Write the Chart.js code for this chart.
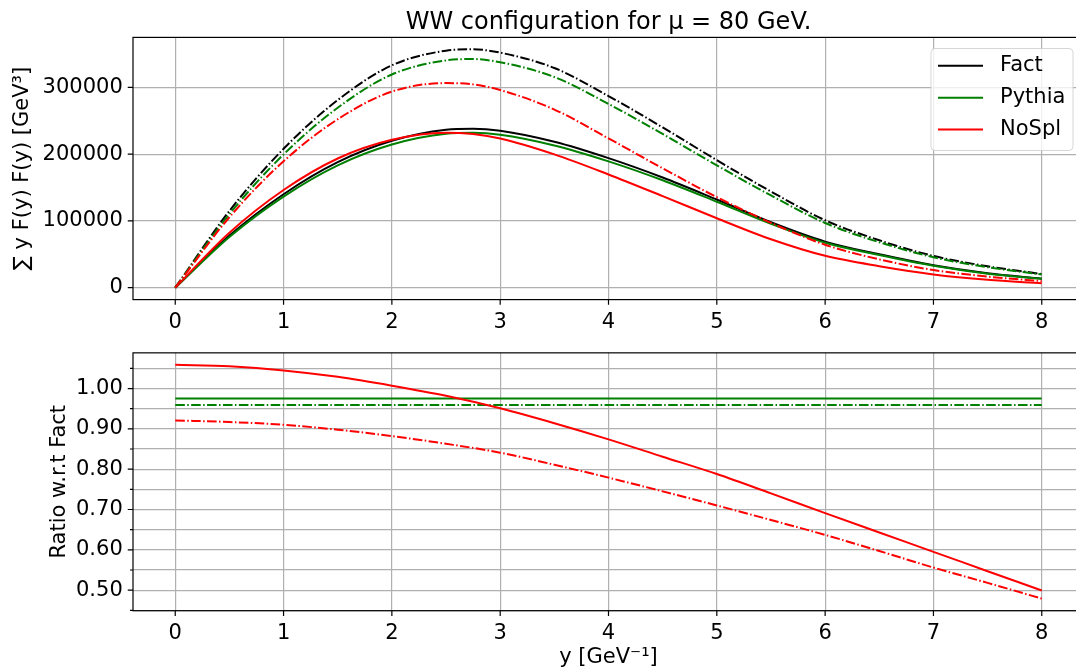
<!DOCTYPE html>
<html><head><meta charset="utf-8">
<script src="https://cdn.jsdelivr.net/npm/chart.js@4/dist/chart.umd.min.js"></script>
<style>
html,body{margin:0;padding:0;background:#fff;overflow:hidden;width:1076px;height:668px;}
#wrap{position:relative;width:1076px;height:668px;overflow:hidden;background:#fff;}
canvas{position:absolute;left:0;}
#top{top:0;width:1090px;height:340px;}
#bot{top:330px;width:1090px;height:340px;}
</style></head><body>
<div id="wrap"><canvas id="top" width="1090" height="340"></canvas><canvas id="bot" width="1090" height="340"></canvas></div>
<script>
// ---- data ----
const yTop = [0, 0.5, 1, 1.5, 2, 2.5, 2.75, 3, 3.5, 4, 4.5, 5, 5.5, 6, 6.5, 7, 7.5, 8];
const factSolid   = [0, 78000, 140000, 188000, 220000, 236500, 238000, 235000, 218500, 194000, 165000, 132000, 98000, 69000, 50000, 33500, 21500, 13500];
const pythiaSolid = [0, 76000, 136500, 183300, 214500, 230600, 232000, 229100, 213000, 189200, 160900, 128700, 95600, 67300, 48800, 32700, 21000, 13200];
const noSplSolid  = [0, 82300, 146300, 193500, 221500, 232200, 230100, 223500, 199700, 169600, 137100, 104000, 72500, 47700, 32200, 19900, 11800, 6700];
const factDD      = [0, 115000, 208000, 281000, 333000, 355000, 357000, 352000, 329000, 287000, 240000, 191000, 144000, 101000, 71000, 47500, 32000, 20500];
const pythiaDD    = [0, 110300, 199500, 269500, 319300, 340400, 342400, 337600, 315500, 275200, 230200, 183200, 138100, 96900, 68100, 45600, 30700, 19700];
const noSplDD     = [0, 105500, 189300, 252300, 293700, 306400, 304500, 296000, 266800, 223600, 178800, 135600, 97100, 64300, 42400, 26400, 16600, 9800];

const yRatio = [0, 0.5, 1, 1.5, 2, 2.5, 3, 3.5, 4, 4.5, 5, 5.5, 6, 6.5, 7, 7.5, 8];
const ratioPythiaSolid = [0.975, 0.975, 0.975, 0.975, 0.975, 0.975, 0.975, 0.975, 0.975, 0.975, 0.975, 0.975, 0.975, 0.975, 0.975, 0.975, 0.975];
const ratioPythiaDD    = [0.959, 0.959, 0.959, 0.959, 0.959, 0.959, 0.959, 0.959, 0.959, 0.959, 0.959, 0.959, 0.959, 0.959, 0.959, 0.959, 0.959];
const ratioNoSplSolid  = [1.059, 1.055, 1.045, 1.029, 1.007, 0.982, 0.951, 0.914, 0.874, 0.831, 0.788, 0.740, 0.691, 0.643, 0.595, 0.547, 0.499];
const ratioNoSplDD     = [0.921, 0.917, 0.910, 0.898, 0.882, 0.863, 0.841, 0.811, 0.779, 0.745, 0.710, 0.674, 0.637, 0.597, 0.556, 0.518, 0.479];

const xTickVals = [0, 1, 2, 3, 4, 5, 6, 7, 8];
const topYTickVals = [0, 100000, 200000, 300000];
const botYTickVals = [0.45, 0.50, 0.55, 0.60, 0.65, 0.70, 0.75, 0.80, 0.85, 0.90, 0.95, 1.00, 1.05];

const titleText = 'WW configuration for μ = 80 GeV.';
const topYLabel = '∑ y F(y) F(y) [GeV³]';
const botYLabel = 'Ratio w.r.t Fact';
const xLabel = 'y [GeV⁻¹]';
const legendLabels = ['Fact', 'Pythia', 'NoSpl'];

// ---- styling ----
const BLACK = '#000000', GREEN = '#008000', RED = '#ff0000';
const GRID = '#b0b0b0';
const DASHDOT = [9.6, 2.4, 1.5, 2.4];
Chart.defaults.font.family = "'DejaVu Sans', sans-serif";
Chart.defaults.color = '#000';

function ds(label, xs, ys, color, dashed, order) {
  return {
    label, data: xs.map((x, i) => ({x, y: ys[i]})),
    borderColor: color, backgroundColor: color, borderWidth: 2,
    borderDash: dashed ? DASHDOT : [], pointRadius: 0, pointHoverRadius: 0,
    fill: false, cubicInterpolationMode: 'monotone', order
  };
}

const frame = {
  id: 'frame',
  afterDatasetsDraw(chart) {
    const {ctx, chartArea: a, scales: {x, y}} = chart;
    ctx.save();
    ctx.strokeStyle = '#000'; ctx.lineWidth = 1.2;
    ctx.strokeRect(a.left, a.top, a.right - a.left, a.bottom - a.top);
    ctx.beginPath();
    x.ticks.forEach(t => {
      const px = x.getPixelForValue(t.value);
      ctx.moveTo(px, a.bottom); ctx.lineTo(px, a.bottom + 5.25);
    });
    y.ticks.forEach(t => {
      const py = y.getPixelForValue(t.value);
      const len = (t.label === '' ? 3 : 5.25);
      ctx.moveTo(a.left - len, py); ctx.lineTo(a.left, py);
    });
    ctx.stroke();
    ctx.restore();
  }
};

const customLegend = {
  id: 'customLegend',
  afterDraw(chart) {
    const ctx = chart.ctx;
    const colors = [BLACK, GREEN, RED];
    ctx.save();
    const bx = 931, by = 48.5, bw = 142, bh = 102, r = 4;
    ctx.beginPath();
    ctx.moveTo(bx + r, by); ctx.lineTo(bx + bw - r, by); ctx.quadraticCurveTo(bx + bw, by, bx + bw, by + r);
    ctx.lineTo(bx + bw, by + bh - r); ctx.quadraticCurveTo(bx + bw, by + bh, bx + bw - r, by + bh);
    ctx.lineTo(bx + r, by + bh); ctx.quadraticCurveTo(bx, by + bh, bx, by + bh - r);
    ctx.lineTo(bx, by + r); ctx.quadraticCurveTo(bx, by, bx + r, by);
    ctx.closePath();
    ctx.fillStyle = 'rgba(255,255,255,0.8)'; ctx.fill();
    ctx.strokeStyle = 'rgba(204,204,204,0.8)'; ctx.lineWidth = 1; ctx.stroke();
    ctx.font = "21px 'DejaVu Sans'";
    ctx.textBaseline = 'middle'; ctx.textAlign = 'left';
    legendLabels.forEach((lab, i) => {
      const yy = 65.8 + i * 31.9;
      ctx.strokeStyle = colors[i]; ctx.lineWidth = 2;
      ctx.beginPath(); ctx.moveTo(938, yy); ctx.lineTo(983, yy); ctx.stroke();
      ctx.fillStyle = '#000'; ctx.fillText(lab, 1000, yy);
    });
    ctx.restore();
  }
};

function xScale(height, withTitle) {
  return {
    type: 'linear', min: -0.39, max: 8.39,
    afterBuildTicks: s => { s.ticks = xTickVals.map(v => ({value: v})); },
    afterFit: s => { s.height = height; },
    ticks: {font: {size: 21}, padding: 10.25, maxRotation: 0, callback: v => String(v)},
    grid: {color: GRID, lineWidth: 1.2, drawTicks: false},
    border: {display: false},
    title: withTitle ? {display: true, text: xLabel, font: {size: 21}, padding: {top: 0, bottom: 0}} : {display: false}
  };
}

new Chart(document.getElementById('top'), {
  type: 'line',
  data: {datasets: [
    ds('Fact', yTop, factSolid, BLACK, false, 10),
    ds('Pythia', yTop, pythiaSolid, GREEN, false, 9),
    ds('NoSpl', yTop, noSplSolid, RED, false, 8),
    ds('Fact (dash-dot)', yTop, factDD, BLACK, true, 7),
    ds('Pythia (dash-dot)', yTop, pythiaDD, GREEN, true, 6),
    ds('NoSpl (dash-dot)', yTop, noSplDD, RED, true, 5)
  ]},
  options: {
    responsive: false, animation: false, devicePixelRatio: 1,
    layout: {padding: {left: 0, right: 6, top: 0, bottom: 0}},
    plugins: {
      legend: {display: false}, tooltip: {enabled: false},
      title: {display: true, text: titleText, fullSize: false, font: {size: 24, weight: 'normal'}, color: '#000', padding: {top: 8.6, bottom: 0}}
    },
    scales: {
      x: xScale(40.4, false),
      y: {
        type: 'linear', min: -17850, max: 374850,
        afterBuildTicks: s => { s.ticks = topYTickVals.map(v => ({value: v})); },
        afterFit: s => { s.width = 133; },
        ticks: {font: {size: 21}, padding: 10.25, callback: v => String(v)},
        grid: {color: GRID, lineWidth: 1.2, drawTicks: false},
        border: {display: false},
        title: {display: true, text: topYLabel, font: {size: 21}, padding: {top: 10, bottom: 0}}
      }
    }
  },
  plugins: [frame, customLegend]
});

new Chart(document.getElementById('bot'), {
  type: 'line',
  data: {datasets: [
    ds('Pythia', yRatio, ratioPythiaSolid, GREEN, false, 10),
    ds('Pythia (dash-dot)', yRatio, ratioPythiaDD, GREEN, true, 9),
    ds('NoSpl', yRatio, ratioNoSplSolid, RED, false, 8),
    ds('NoSpl (dash-dot)', yRatio, ratioNoSplDD, RED, true, 7)
  ]},
  options: {
    responsive: false, animation: false, devicePixelRatio: 1,
    layout: {padding: {left: 0, right: 6, top: 20, bottom: 0}},
    plugins: {legend: {display: false}, tooltip: {enabled: false}},
    scales: {
      x: xScale(59.3, true),
      y: {
        type: 'linear', min: 0.449, max: 1.0885,
        afterBuildTicks: s => { s.ticks = botYTickVals.map(v => ({value: v})); },
        afterFit: s => { s.width = 133; },
        ticks: {font: {size: 21}, padding: 10.25, autoSkip: false,
          callback: v => (Math.round(v * 100) % 10 === 0 ? v.toFixed(2) : '')},
        grid: {color: GRID, lineWidth: 1.2, drawTicks: false},
        border: {display: false},
        title: {display: true, text: botYLabel, font: {size: 21}, padding: {top: 47, bottom: 0}}
      }
    }
  },
  plugins: [frame]
});
</script>
</body></html>
